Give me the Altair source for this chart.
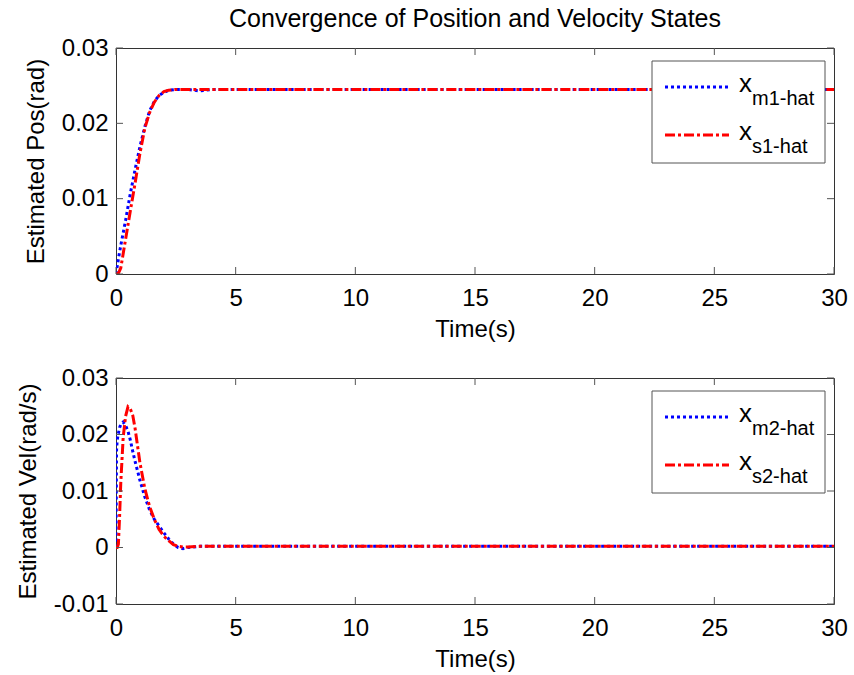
import altair as alt
import pandas as pd

# ---------------- data ----------------
t_pos = [0, 0.1, 0.2, 0.4, 0.6, 0.8, 1.0, 1.2, 1.4, 1.6, 1.8, 2.0, 2.2, 2.5, 3.0, 3.5, 4.0, 5, 10, 15, 20, 25, 30]
pos_m1 = [0, 0.0020, 0.0038, 0.0071, 0.0107, 0.0139, 0.0169, 0.0195, 0.0216, 0.0229, 0.0237, 0.0241, 0.0244,
          0.0245, 0.0245, 0.0243, 0.0245, 0.0245, 0.0245, 0.0245, 0.0245, 0.0245, 0.0245]
pos_s1 = [0, 0.0001, 0.0008, 0.0046, 0.0084, 0.0121, 0.0160, 0.0193, 0.0214, 0.0228, 0.0237, 0.0242, 0.0244,
          0.0245, 0.0245, 0.0245, 0.0245, 0.0245, 0.0245, 0.0245, 0.0245, 0.0245, 0.0245]

t_vel = [0, 0.02, 0.05, 0.1, 0.15, 0.2, 0.3, 0.4, 0.5, 0.6, 0.7, 0.8, 1.0, 1.2, 1.4, 1.6, 1.8, 2.0, 2.2, 2.4,
         2.6, 2.8, 3.0, 3.5, 4, 5, 10, 15, 20, 25, 30]
vel_m2 = [0, 0.0170, 0.0190, 0.0202, 0.0212, 0.0218, 0.0222, 0.0216, 0.0206, 0.0190, 0.0170, 0.0152, 0.0119,
          0.0090, 0.0067, 0.0050, 0.0038, 0.0026, 0.0015, 0.0006, 0.0000, -0.0002, 0.0000, 0.0002, 0.0002,
          0.0002, 0.0002, 0.0002, 0.0002, 0.0002, 0.0002]
vel_s2 = [0, 0.0, 0.0, 0.0006, 0.0055, 0.0115, 0.0195, 0.0232, 0.0249, 0.0245, 0.0234, 0.0210, 0.0150,
          0.0105, 0.0073, 0.0050, 0.0032, 0.0020, 0.0012, 0.0005, 0.0002, 0.0001, 0.0001, 0.0002, 0.0002,
          0.0002, 0.0002, 0.0002, 0.0002, 0.0002, 0.0002]

x_ticks = [0, 5, 10, 15, 20, 25, 30]
pos_ticks = [0, 0.01, 0.02, 0.03]
vel_ticks = [-0.01, 0, 0.01, 0.02, 0.03]

title_text = "Convergence of Position and Velocity States"
x_title = "Time(s)"
pos_title = "Estimated Pos(rad)"
vel_title = "Estimated Vel(rad/s)"
pos_subs = ["m1-hat", "s1-hat"]
vel_subs = ["m2-hat", "s2-hat"]

# ---------------- styling ----------------
W, H = 718, 226
FONT = "Liberation Sans"
BLUE = "#0000ff"
RED = "#ff0000"
TICK_LEN = 7
FS = 24


def panel(t, m, s, yticks, ydom, ytitle, subs, title=None):
    df_m = pd.DataFrame({"t": t, "v": m})
    df_s = pd.DataFrame({"t": t, "v": s})
    xt = pd.DataFrame({"t": x_ticks})
    yt = pd.DataFrame({"v": yticks})

    common = dict(ticks=False, domain=False, grid=False, labelFlush=False, labelOverlap=False,
                  labelFont=FONT, labelFontSize=FS, labelColor="black",
                  titleFont=FONT, titleFontSize=FS, titleFontWeight="normal", titleColor="black")
    x_axis = alt.Axis(values=x_ticks, title=x_title, labelPadding=12, titlePadding=7, **common)
    y_axis = alt.Axis(values=yticks, title=ytitle, labelPadding=8, titlePadding=13,
                      labelExpr="datum.value == 0 ? '0' : (datum.value < 0 ? '-' + format(-datum.value, '.2f') : format(datum.value, '.2f'))",
                      **common)
    xs = alt.Scale(domain=[0, 30], nice=False, zero=False)
    ys = alt.Scale(domain=ydom, nice=False, zero=False)
    X = alt.X("t:Q", scale=xs, axis=x_axis)
    Y = alt.Y("v:Q", scale=ys, axis=y_axis)

    line_m = alt.Chart(df_m).mark_line(color=BLUE, strokeWidth=3, strokeDash=[3, 3], clip=True).encode(x=X, y=Y)
    line_s = alt.Chart(df_s).mark_line(color=RED, strokeWidth=3, strokeDash=[10, 3, 3, 3], clip=True).encode(x=X, y=Y)

    tb = alt.Chart(xt).mark_rule(color="#555", strokeWidth=1).encode(x=X, y=alt.value(H), y2=alt.value(H - TICK_LEN))
    tt = alt.Chart(xt).mark_rule(color="#555", strokeWidth=1).encode(x=X, y=alt.value(0), y2=alt.value(TICK_LEN))
    tl = alt.Chart(yt).mark_rule(color="#555", strokeWidth=1).encode(y=Y, x=alt.value(0), x2=alt.value(TICK_LEN))
    tr = alt.Chart(yt).mark_rule(color="#555", strokeWidth=1).encode(y=Y, x=alt.value(W), x2=alt.value(W - TICK_LEN))

    one = alt.Data(values=[{"k": 1}])
    box = alt.Chart(one).mark_rect(fill="white", stroke="#555", strokeWidth=1).encode(
        x=alt.value(536), x2=alt.value(709), y=alt.value(13), y2=alt.value(115))
    lg_m = alt.Chart(one).mark_rule(color=BLUE, strokeWidth=3, strokeDash=[3, 3]).encode(
        x=alt.value(549), x2=alt.value(613), y=alt.value(39))
    lg_s = alt.Chart(one).mark_rule(color=RED, strokeWidth=3, strokeDash=[10, 3, 3, 3]).encode(
        x=alt.value(549), x2=alt.value(613), y=alt.value(87))
    txt = []
    for i, (yb, ys_) in enumerate([(44, 57), (92, 105)]):
        txt.append(alt.Chart(one).mark_text(text="x", font=FONT, fontSize=26, align="left",
                                            baseline="alphabetic", color="black").encode(
            x=alt.value(623), y=alt.value(yb)))
        txt.append(alt.Chart(one).mark_text(text=subs[i], font=FONT, fontSize=20, align="left",
                                            baseline="alphabetic", color="black").encode(
            x=alt.value(636), y=alt.value(ys_)))

    layers = [line_m, line_s, tb, tt, tl, tr, box, lg_m, lg_s] + txt
    ch = alt.layer(*layers).properties(width=W, height=H)
    if title:
        ch = ch.properties(title=alt.Title(title, font=FONT, fontSize=25, fontWeight="normal",
                                           color="black", anchor="middle", offset=4))
    return ch


top = panel(t_pos, pos_m1, pos_s1, pos_ticks, [0, 0.03], pos_title, pos_subs, title=title_text)
bottom = panel(t_vel, vel_m2, vel_s2, vel_ticks, [-0.01, 0.03], vel_title, vel_subs)

chart = alt.vconcat(top, bottom, spacing=104, bounds="flush").properties(
    padding={"left": 15, "top": 6, "right": 2, "bottom": 5},
    background="white"
).configure_view(
    stroke="#333", strokeWidth=1
)

chart.save("out.html", embed_options={"renderer": "svg", "actions": False})
